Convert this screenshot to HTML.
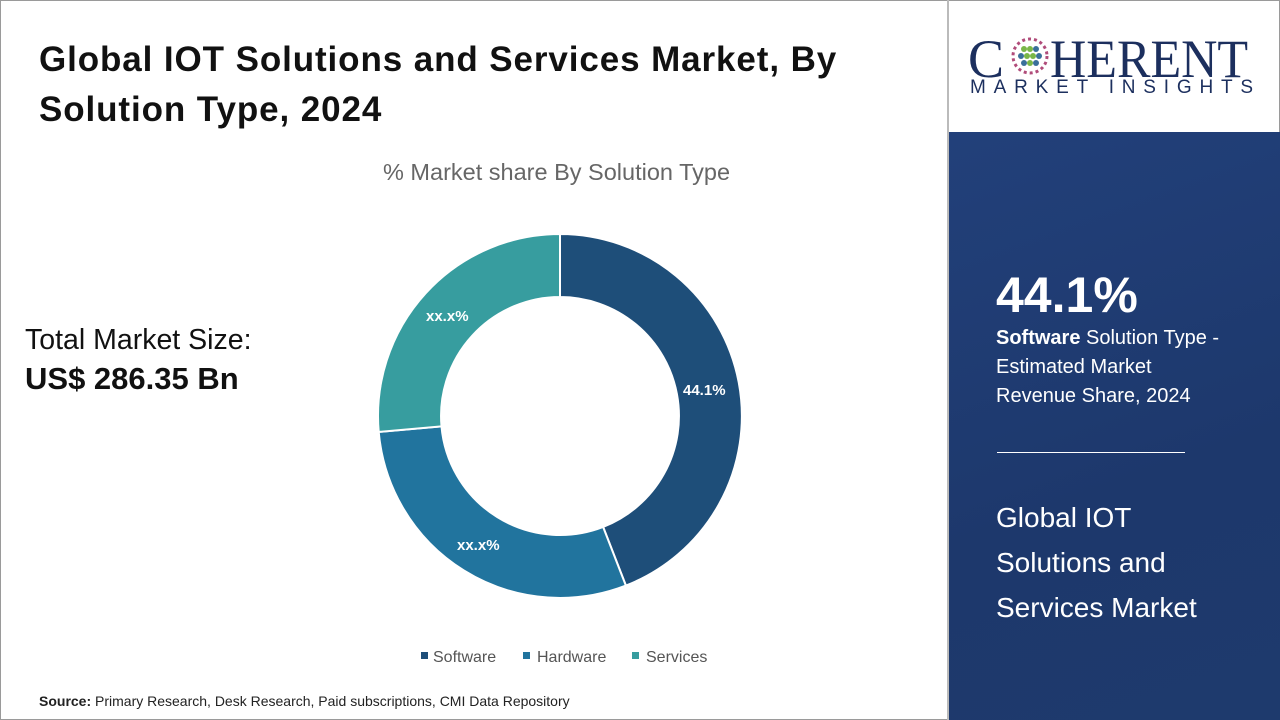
<!DOCTYPE html>
<html><head><meta charset="utf-8"><style>
body{margin:0;width:1280px;height:720px;position:relative;background:#fff;font-family:"Liberation Sans",sans-serif;overflow:hidden}
.frame{position:absolute;left:0;top:0;width:1278px;height:718px;border:1px solid #9a9a9a}
.t{position:absolute;white-space:nowrap}
</style></head><body>
<div class="frame"></div>
<div class="t" style="left:39px;top:35px;font-size:35px;font-weight:bold;color:#111;line-height:50px;letter-spacing:0.9px">Global IOT Solutions and Services Market, By<br>Solution Type, 2024</div>
<div class="t" style="left:383px;top:159px;font-size:23.5px;color:#666">% Market share By Solution Type</div>
<div class="t" style="left:25px;top:324px;font-size:28.5px;color:#111">Total Market Size:</div>
<div class="t" style="left:25px;top:361px;font-size:31px;font-weight:bold;color:#111">US$ 286.35 Bn</div>
<svg style="position:absolute;left:0;top:0" width="950" height="720">
<path d="M560,234 A182,182 0 0 1 625.9,585.6 L603.1,526.9 A119,119 0 0 0 560,297 Z" fill="#1e4e79" stroke="#fff" stroke-width="2"/>
<path d="M625.9,585.6 A182,182 0 0 1 378.7,431.9 L441.5,426.4 A119,119 0 0 0 603.1,526.9 Z" fill="#21749e" stroke="#fff" stroke-width="2"/>
<path d="M378.7,431.9 A182,182 0 0 1 560,234 L560,297 A119,119 0 0 0 441.5,426.4 Z" fill="#379d9f" stroke="#fff" stroke-width="2"/>
<g font-family="Liberation Sans" font-weight="bold" font-size="15" fill="#fff">
<text x="683" y="395">44.1%</text>
<text x="426" y="321">xx.x%</text>
<text x="457" y="550">xx.x%</text>
</g>
<g font-family="Liberation Sans" font-size="16" fill="#555">
<rect x="421" y="652" width="7" height="7" fill="#1e4e79"/><text x="433" y="662">Software</text>
<rect x="523" y="652" width="7" height="7" fill="#21749e"/><text x="537" y="662">Hardware</text>
<rect x="632" y="652" width="7" height="7" fill="#379d9f"/><text x="646" y="662">Services</text>
</g>
<line x1="948" y1="0" x2="948" y2="720" stroke="#bbb" stroke-width="2"/>
</svg>
<div class="t" style="left:39px;top:693px;font-size:14px;color:#222"><b>Source:</b> Primary Research, Desk Research, Paid subscriptions, CMI Data Repository</div>
<div style="position:absolute;left:949px;top:132px;width:331px;height:588px;background:linear-gradient(160deg,#22407a 0%,#1d386c 60%,#1e3a6d 100%)"></div>
<div class="t" style="left:968px;top:28px;font-family:'Liberation Serif',serif;font-size:54px;color:#1c2f5e">C</div>
<div class="t" style="left:1050px;top:28px;font-family:'Liberation Serif',serif;font-size:54px;color:#1c2f5e;transform:scaleX(0.93);transform-origin:left">HERENT</div>
<svg style="position:absolute;left:1010px;top:36px" width="40" height="40">
<g fill="#3a6f9a"><circle cx="20" cy="20" r="17" fill="none" stroke="#b04c7a" stroke-width="3" stroke-dasharray="3 3"/>
<circle cx="14" cy="13" r="3" fill="#7ab648"/><circle cx="20" cy="13" r="3" fill="#7ab648"/><circle cx="26" cy="13" r="3" fill="#3a6f9a"/>
<circle cx="11" cy="20" r="3"/><circle cx="17" cy="20" r="3" fill="#7ab648"/><circle cx="23" cy="20" r="3" fill="#7ab648"/><circle cx="29" cy="20" r="3"/>
<circle cx="14" cy="27" r="3"/><circle cx="20" cy="27" r="3" fill="#7ab648"/><circle cx="26" cy="27" r="3"/></g>
</svg>
<div class="t" style="left:970px;top:77px;font-size:19px;color:#1c2f5e;letter-spacing:7.8px">MARKET INSIGHTS</div>
<div class="t" style="left:996px;top:266px;font-size:50px;font-weight:bold;color:#fff">44.1%</div>
<div class="t" style="left:996px;top:324px;font-size:20px;color:#fff;line-height:29px"><b>Software</b> Solution Type -<br>Estimated Market<br>Revenue Share, 2024</div>
<div style="position:absolute;left:997px;top:452px;width:188px;height:1px;background:#fff"></div>
<div class="t" style="left:996px;top:495px;font-size:28px;color:#fff;line-height:45px">Global IOT<br>Solutions and<br>Services Market</div>
</body></html>
